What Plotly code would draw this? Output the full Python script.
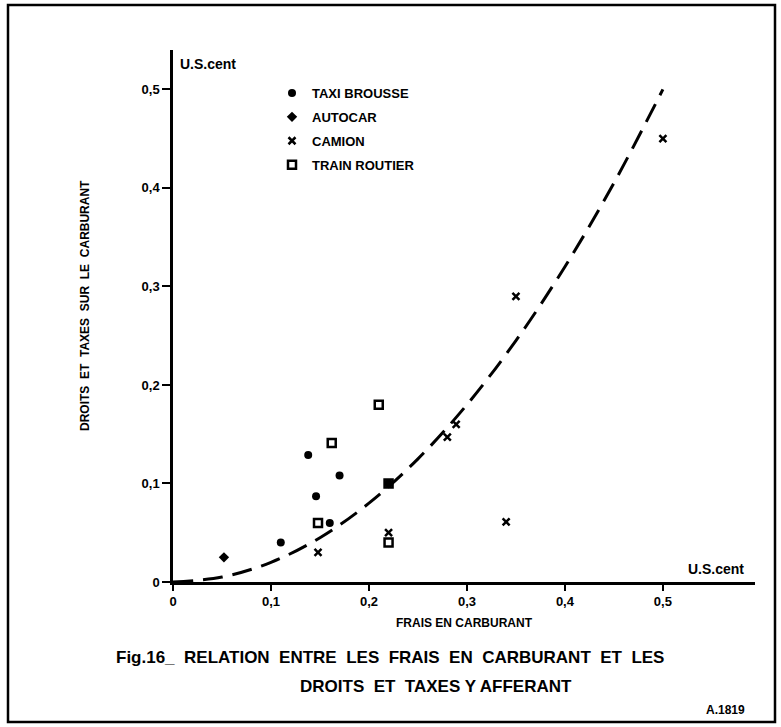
import plotly.graph_objects as go

# ---- data ----
taxi_x = [0.11, 0.138, 0.146, 0.16, 0.17, 0.22]
taxi_y = [0.04, 0.129, 0.087, 0.06, 0.108, 0.10]

autocar_x = [0.052]
autocar_y = [0.025]

camion_x = [0.148, 0.22, 0.28, 0.289, 0.34, 0.35, 0.50]
camion_y = [0.03, 0.05, 0.147, 0.16, 0.061, 0.29, 0.45]

train_x = [0.148, 0.162, 0.21, 0.22, 0.22]
train_y = [0.06, 0.141, 0.18, 0.10, 0.04]

curve_x = [0, 0.05, 0.10, 0.15, 0.20, 0.25, 0.30, 0.35, 0.40, 0.45, 0.50]
curve_y = [0, 0.005, 0.02, 0.045, 0.08, 0.125, 0.18, 0.245, 0.32, 0.405, 0.50]

x_ticks = [0, 0.1, 0.2, 0.3, 0.4, 0.5]
x_tick_labels = ["0", "0,1", "0,2", "0,3", "0,4", "0,5"]
y_ticks = [0, 0.1, 0.2, 0.3, 0.4, 0.5]
y_tick_labels = ["0", "0,1", "0,2", "0,3", "0,4", "0,5"]

FONT = "Liberation Sans"
W, H = 781, 727
L, R, T, B = 173, 26, 50, 145
PW, PH = W - L - R, H - T - B


def px(xp):
    return (xp - L) / PW


def py(yp):
    return (H - B - yp) / PH


fig = go.Figure()

fig.add_trace(go.Scatter(x=curve_x, y=curve_y, mode="lines", line=dict(color="black", width=3, dash="20px,10px", shape="spline"),
                         showlegend=False, hoverinfo="skip"))

fig.add_trace(go.Scatter(x=train_x, y=train_y, mode="markers", name="TRAIN ROUTIER", legendgroup="d", legendrank=4,
                         marker=dict(symbol="square-open", size=8, color="black", line=dict(width=2.5, color="black"))))
fig.add_trace(go.Scatter(x=taxi_x, y=taxi_y, mode="markers", name="TAXI BROUSSE", legendgroup="a", legendrank=1,
                         marker=dict(symbol="circle", size=8, color="black")))
fig.add_trace(go.Scatter(x=autocar_x, y=autocar_y, mode="markers", name="AUTOCAR", legendgroup="b", legendrank=2,
                         marker=dict(symbol="diamond", size=8, color="black")))
fig.add_trace(go.Scatter(x=camion_x, y=camion_y, mode="markers", name="CAMION", legendgroup="c", legendrank=3,
                         marker=dict(symbol="x-thin-open", size=7, color="black", line=dict(width=2.5, color="black"))))

ann = []
ann.append(dict(text="U.S.cent", x=px(178), y=py(64), xanchor="left", yanchor="middle", showarrow=False,
                font=dict(family=FONT, size=14, color="black", weight="bold")))
ann.append(dict(text="U.S.cent", x=px(746), y=py(569), xanchor="right", yanchor="middle", showarrow=False,
                font=dict(family=FONT, size=14, color="black", weight="bold")))
ann.append(dict(text="FRAIS EN CARBURANT", x=0.5, y=py(623), xanchor="center", yanchor="middle", showarrow=False,
                font=dict(family=FONT, size=12, color="black", weight="bold")))
ann.append(dict(text="DROITS  ET  TAXES  SUR  LE  CARBURANT".replace("  ", "\u00a0\u00a0"), x=px(85), y=py(306),
                textangle=-90, xanchor="center", yanchor="middle", showarrow=False,
                font=dict(family=FONT, size=12, color="black", weight="bold")))
cap1 = "Fig.16_  RELATION  ENTRE  LES  FRAIS  EN  CARBURANT  ET  LES".replace("  ", "\u00a0\u00a0")
cap2 = "DROITS  ET  TAXES Y AFFERANT".replace("  ", "\u00a0\u00a0")
ann.append(dict(text=cap1, x=px(390), y=py(657), xanchor="center", yanchor="middle", showarrow=False,
                font=dict(family=FONT, size=17, color="black", weight="bold")))
ann.append(dict(text=cap2, x=px(436), y=py(686), xanchor="center", yanchor="middle", showarrow=False,
                font=dict(family=FONT, size=17, color="black", weight="bold")))
ann.append(dict(text="A.1819", x=px(747), y=py(710), xanchor="right", yanchor="middle", showarrow=False,
                font=dict(family=FONT, size=12, color="black", weight="bold")))
for a in ann:
    a["xref"] = "paper"
    a["yref"] = "paper"

fig.update_layout(
    width=W, height=H,
    margin=dict(l=L, r=R, t=T, b=B),
    paper_bgcolor="white", plot_bgcolor="white",
    font=dict(family=FONT, color="black"),
    annotations=ann,
    shapes=[dict(type="rect", xref="paper", yref="paper", x0=px(8), x1=px(775), y0=py(722), y1=py(5),
                 line=dict(color="black", width=2.5), fillcolor="rgba(0,0,0,0)", layer="below")],
    legend=dict(x=px(272), y=py(78), xanchor="left", yanchor="top", itemwidth=30, tracegroupgap=4,
                font=dict(family=FONT, size=13, color="black", weight="bold"), bgcolor="rgba(0,0,0,0)"),
    showlegend=True,
)
fig.update_xaxes(range=[0, 0.594], tickvals=x_ticks, ticktext=x_tick_labels, showgrid=False, zeroline=False,
                 showline=True, linecolor="black", linewidth=2.5, ticks="outside", ticklen=6, tickwidth=2,
                 tickcolor="black", tickfont=dict(family=FONT, size=13, color="black", weight="bold"))
fig.update_yaxes(range=[0, 0.54], tickvals=y_ticks, ticktext=y_tick_labels, showgrid=False, zeroline=False,
                 showline=True, linecolor="black", linewidth=2.5, ticks="outside", ticklen=8, tickwidth=2,
                 tickcolor="black", tickfont=dict(family=FONT, size=13, color="black", weight="bold"))

fig.write_html("out.html")
